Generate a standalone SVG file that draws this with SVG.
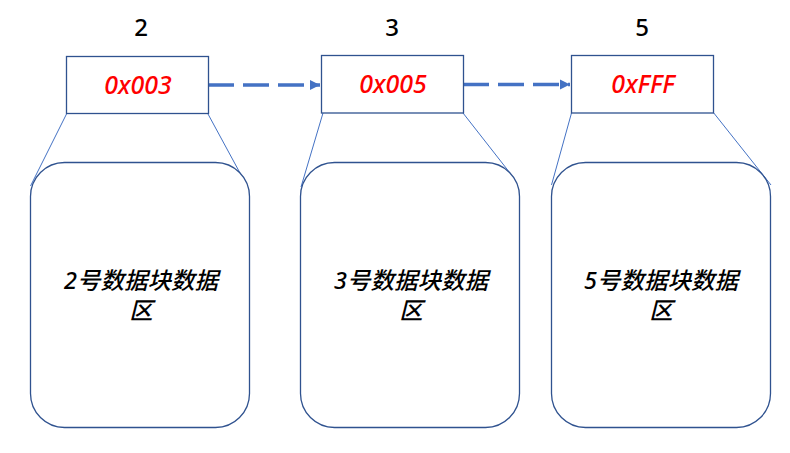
<svg xmlns="http://www.w3.org/2000/svg" width="790" height="453" viewBox="0 0 790 453">
<defs>
<style>
.bg{fill:#ffffff}
.num{font-family:"Noto Sans","Liberation Sans",sans-serif;font-weight:500;font-size:24px;fill:#000;text-anchor:middle}
.ptr{fill:#fff;stroke:#2F528F;stroke-width:1.3}
.ptrt{font-family:"Noto Sans","DejaVu Sans",sans-serif;font-style:italic;font-weight:500;font-size:25px;fill:#FF0000;text-anchor:middle}
.blk{fill:#fff;stroke:#2F528F;stroke-width:1.3}
.blkt{font-family:"Noto Sans","Noto Sans CJK SC",sans-serif;font-style:italic;font-weight:500;font-size:23.5px;fill:#000;text-anchor:middle}
.lead{stroke:#4472C4;stroke-width:1;fill:none}
.arr{stroke:#4472C4;stroke-width:3.5;fill:none;stroke-dasharray:26 9}
</style>
<marker id="ah" viewBox="0 0 10 10" refX="10" refY="5" markerWidth="3" markerHeight="3" orient="auto" markerUnits="strokeWidth">
<path d="M0,0 L10,5 L0,10 Z" fill="#4472C4"/>
</marker>
</defs>
<rect class="bg" x="0" y="0" width="790" height="453"/>
<g id="connectors">
<line class="lead" x1="66.5" y1="114" x2="30.5" y2="186"/>
<line class="lead" x1="208" y1="114" x2="240" y2="173"/>
<line class="lead" x1="323" y1="113" x2="301" y2="187"/>
<line class="lead" x1="463" y1="113" x2="510" y2="173"/>
<line class="lead" x1="571.5" y1="113" x2="551.5" y2="185"/>
<line class="lead" x1="713" y1="112" x2="771" y2="185"/>
<line class="arr" x1="208" y1="85" x2="320" y2="85" marker-end="url(#ah)"/>
<line class="arr" x1="463" y1="84.5" x2="570" y2="84.5" marker-end="url(#ah)"/>
</g>
<g id="node2">
<text class="num" x="141" y="36">2</text>
<rect class="ptr" x="66.5" y="56.5" width="142" height="57"/>
<text class="ptrt" x="138" y="93.5">0x003</text>
<rect class="blk" x="30.5" y="162.5" width="219" height="265" rx="34" ry="34"/>
<text class="blkt" x="141" y="289">2号数据块数据</text>
<text class="blkt" x="141" y="319">区</text>
</g>
<g id="node3">
<text class="num" x="392" y="36">3</text>
<rect class="ptr" x="321.5" y="55.5" width="142" height="57.5"/>
<text class="ptrt" x="393" y="92.5">0x005</text>
<rect class="blk" x="300.5" y="162.5" width="219" height="265" rx="34" ry="34"/>
<text class="blkt" x="411" y="289">3号数据块数据</text>
<text class="blkt" x="411" y="319">区</text>
</g>
<g id="node5">
<text class="num" x="642" y="36">5</text>
<rect class="ptr" x="571.5" y="55.5" width="142" height="57.5"/>
<text class="ptrt" x="643" y="92.5">0xFFF</text>
<rect class="blk" x="551.5" y="162.5" width="219" height="265" rx="34" ry="34"/>
<text class="blkt" x="661" y="289">5号数据块数据</text>
<text class="blkt" x="661" y="319">区</text>
</g>
</svg>
